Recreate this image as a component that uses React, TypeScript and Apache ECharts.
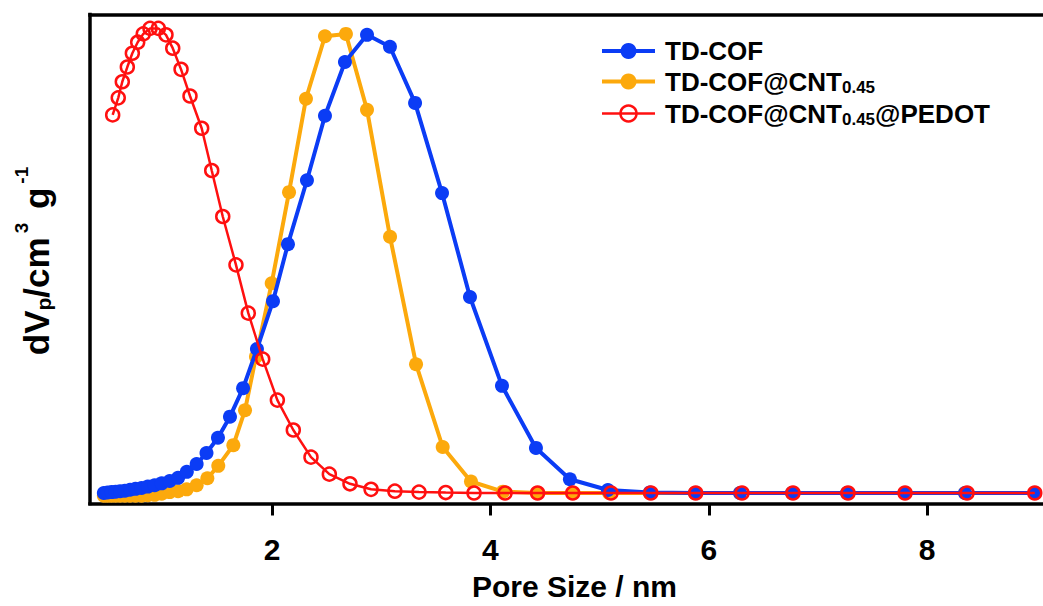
import React, { useEffect, useRef } from "react";
import * as echarts from "echarts";

// ---- data ----
const xTicks = [2, 4, 6, 8];

const seriesNames = ["TD-COF", "TD-COF@CNT0.45", "TD-COF@CNT0.45@PEDOT"];

const blueX = [0.46, 0.494, 0.53, 0.568, 0.609, 0.653, 0.7, 0.75, 0.805, 0.863, 0.925, 0.99, 1.063, 1.14, 1.22, 1.31, 1.4, 1.505, 1.615, 1.735, 1.862, 2.009, 2.146, 2.32, 2.485, 2.668, 2.87, 3.08, 3.31, 3.557, 3.813, 4.106, 4.417, 4.728, 5.076, 5.46, 5.874, 6.286, 6.762, 7.266, 7.797, 8.346, 8.987];
const blueY = [0.0, 0.001, 0.002, 0.003, 0.004, 0.005, 0.007, 0.009, 0.011, 0.014, 0.017, 0.021, 0.026, 0.033, 0.046, 0.063, 0.087, 0.12, 0.166, 0.228, 0.313, 0.417, 0.541, 0.68, 0.82, 0.937, 0.996, 0.97, 0.848, 0.652, 0.426, 0.233, 0.098, 0.03, 0.0065, 0.001, 0, 0, 0, 0, 0, 0, 0];

const orangeX = [0.46, 0.494, 0.53, 0.568, 0.609, 0.653, 0.7, 0.75, 0.805, 0.863, 0.925, 0.99, 1.063, 1.14, 1.219, 1.31, 1.408, 1.508, 1.646, 1.753, 1.853, 1.997, 2.156, 2.311, 2.485, 2.677, 2.87, 3.081, 3.319, 3.563, 3.822, 4.115, 4.427, 4.756, 5.086, 5.46, 5.874, 6.286, 6.762, 7.266, 7.797, 8.346, 8.987];
const orangeY = [-0.006, -0.006, -0.006, -0.006, -0.006, -0.006, -0.006, -0.006, -0.006, -0.005, -0.004, -0.0015, 0.002, 0.004, 0.008, 0.017, 0.032, 0.059, 0.104, 0.18, 0.296, 0.456, 0.654, 0.857, 0.993, 0.998, 0.833, 0.557, 0.28, 0.1, 0.025, 0.003, 0, 0, 0, 0, 0, 0, 0, 0, 0, 0, 0];

const redX = [0.541, 0.592, 0.629, 0.675, 0.721, 0.77, 0.821, 0.883, 0.959, 1.029, 1.091, 1.167, 1.249, 1.356, 1.448, 1.549, 1.67, 1.783, 1.915, 2.049, 2.195, 2.357, 2.525, 2.714, 2.907, 3.125, 3.346, 3.591, 3.85, 4.134, 4.432, 4.754, 5.104, 5.469, 5.88, 6.304, 6.771, 7.275, 7.797, 8.365, 8.985];
const redY = [0.822, 0.859, 0.894, 0.926, 0.956, 0.98, 0.998, 1.01, 1.01, 0.996, 0.967, 0.921, 0.863, 0.793, 0.701, 0.601, 0.496, 0.391, 0.291, 0.202, 0.137, 0.078, 0.041, 0.02, 0.008, 0.004, 0.002, 0.001, 0, 0, 0, 0, 0, 0, 0, 0, 0, 0, 0, 0, 0];

// ---- styling ----
const FONT = "'Liberation Sans', Arial, Helvetica, sans-serif";
const BLUE = "#0B3CF5";
const ORANGE = "#FCA90C";
const RED = "#FF1010";

const X_MIN = 0.3333;
const X_MAX = 9.0604;
const Y_MIN = -0.0228;
const Y_MAX = 1.0402;

const zip = (xs: number[], ys: number[]) => xs.map((x, i) => [x, ys[i]]);

export default function App() {
  const ref = useRef<HTMLDivElement>(null);

  useEffect(() => {
    document.body.style.margin = "0";
    const chart = echarts.init(ref.current!, null, { renderer: "svg" });

    const axisLineStyle = { color: "#000", width: 3.5, cap: "square" as const };

    const option: any = {
      animation: false,
      backgroundColor: "#fff",
      grid: {
        left: 90,
        right: 0,
        top: 14.5,
        bottom: 102.5,
        containLabel: false,
        outerBoundsMode: "none",
      },
      legend: {
        orient: "vertical",
        left: 595,
        top: 33,
        itemWidth: 53,
        itemHeight: 20,
        itemGap: 4.5,
        selectedMode: false,
        data: [
          { name: seriesNames[0], itemStyle: { color: BLUE }, lineStyle: { color: BLUE, width: 4 } },
          { name: seriesNames[1], itemStyle: { color: ORANGE }, lineStyle: { color: ORANGE, width: 4 } },
          {
            name: seriesNames[2],
            itemStyle: { color: "rgba(255,255,255,0)", borderColor: RED, borderWidth: 2.5 },
            lineStyle: { color: RED, width: 2.5 },
          },
        ],
        formatter: (name: string) => {
          const parts = name.split("0.45");
          let out = "";
          parts.forEach((p, i) => {
            if (p) out += `{b|${p}}`;
            if (i < parts.length - 1) out += "{s|0.45}";
          });
          return out;
        },
        textStyle: {
          padding: [0, 0, 0, 5],
          rich: {
            b: {
              fontFamily: FONT,
              fontWeight: "bold",
              fontSize: 26,
              lineHeight: 29,
              verticalAlign: "middle",
              color: "#000",
            },
            s: {
              fontFamily: FONT,
              fontWeight: "bold",
              fontSize: 17,
              lineHeight: 17,
              verticalAlign: "bottom",
              color: "#000",
            },
          },
        },
      },
      xAxis: [
        {
          type: "value",
          min: X_MIN,
          max: X_MAX,
          position: "bottom",
          axisLine: { show: true, onZero: false, lineStyle: axisLineStyle },
          axisTick: {
            show: true,
            inside: false,
            length: 12,
            customValues: xTicks,
            lineStyle: { color: "#000", width: 3 },
          },
          axisLabel: {
            show: true,
            customValues: xTicks,
            margin: 31,
            fontFamily: FONT,
            fontWeight: "bold",
            fontSize: 30,
            color: "#000",
          },
          splitLine: { show: false },
          name: "Pore Size / nm",
          nameLocation: "middle",
          nameGap: 68,
          nameTextStyle: {
            fontFamily: FONT,
            fontWeight: "bold",
            fontSize: 30,
            color: "#000",
            padding: [0, 0, 0, 16],
          },
        },
        {
          type: "value",
          min: X_MIN,
          max: X_MAX,
          position: "top",
          axisLine: { show: true, onZero: false, lineStyle: axisLineStyle },
          axisTick: { show: false },
          axisLabel: { show: false },
          splitLine: { show: false },
        },
      ],
      yAxis: {
        type: "value",
        min: Y_MIN,
        max: Y_MAX,
        axisLine: { show: true, onZero: false, lineStyle: axisLineStyle },
        axisTick: { show: false },
        axisLabel: { show: false },
        splitLine: { show: false },
        name: "{b|dV}{s|p}{b|/cm}{u|3}{b| g}{u|-1}",
        nameLocation: "middle",
        nameRotate: 90,
        nameGap: 36,
        nameTextStyle: {
          rich: {
            b: { fontFamily: FONT, fontWeight: "bold", fontSize: 35, lineHeight: 35, verticalAlign: "bottom", color: "#000" },
            s: { fontFamily: FONT, fontWeight: "bold", fontSize: 21, lineHeight: 21, verticalAlign: "bottom", color: "#000" },
            u: { fontFamily: FONT, fontWeight: "bold", fontSize: 19, lineHeight: 42, verticalAlign: "top", color: "#000", padding: [0, 4, 0, 4] },
          },
        },
      },
      series: [
        {
          name: seriesNames[1],
          type: "line",
          data: zip(orangeX, orangeY),
          symbol: "circle",
          symbolSize: 14,
          showAllSymbol: true,
          itemStyle: { color: ORANGE },
          lineStyle: { color: ORANGE, width: 4 },
          z: 2,
        },
        {
          name: seriesNames[0],
          type: "line",
          data: zip(blueX, blueY),
          symbol: "circle",
          symbolSize: 14,
          showAllSymbol: true,
          itemStyle: { color: BLUE },
          lineStyle: { color: BLUE, width: 4 },
          z: 3,
        },
        {
          name: seriesNames[2],
          type: "line",
          data: zip(redX, redY),
          symbol: "circle",
          symbolSize: 13,
          showAllSymbol: true,
          itemStyle: { color: "rgba(255,255,255,0)", borderColor: RED, borderWidth: 2.5 },
          lineStyle: { color: RED, width: 2.5 },
          z: 4,
        },
      ],
    };

    chart.setOption(option);
    return () => chart.dispose();
  }, []);

  return <div ref={ref} style={{ width: 1043, height: 606 }} />;
}
